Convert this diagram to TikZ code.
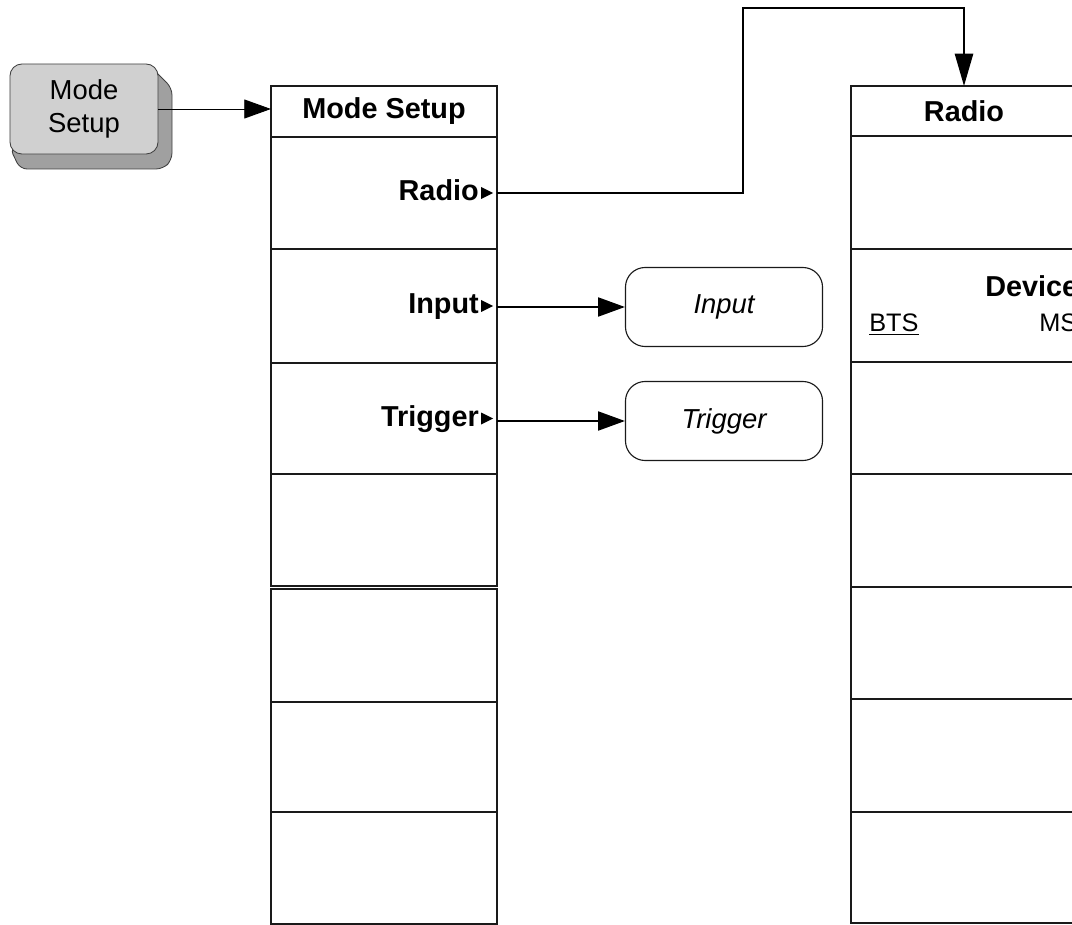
\documentclass[tikz,border=0pt]{standalone}
\usepackage{fontspec}
\setmainfont{Liberation Sans}
\usepackage{tikz}
\usetikzlibrary{positioning,arrows.meta,calc}
\definecolor{keyface}{HTML}{D0D0D0}
\definecolor{keyshade}{HTML}{A0A0A0}
\definecolor{edge}{HTML}{1A1A1A}
\newcommand{\hdfont}{\fontsize{20.5}{24}\selectfont\bfseries}
\newcommand{\txfont}{\fontsize{19.5}{23.4}\selectfont}
\newcommand{\smfont}{\fontsize{18}{22}\selectfont}
\tikzset{
  sk/.style={draw=edge,line width=1pt,minimum width=5.65cm,inner sep=0pt,outer sep=0pt,font=\hdfont},
  lbl/.style={font=\hdfont,inner sep=0pt,anchor=base east},
  func/.style={draw=edge,line width=0.8pt,rounded corners=14pt,minimum width=4.925cm,minimum height=1.975cm,font=\txfont\itshape,inner sep=0pt},
  link/.style={line width=1.3pt,-{Triangle[length=19pt,width=13.5pt]}},
  hardkey/.style={draw=black!75,line width=0.6pt,fill=keyface,rounded corners=8.5pt,minimum width=3.7cm,minimum height=2.25cm,align=center,font=\txfont,inner sep=0pt},
  plain/.style={anchor=base west,inner sep=0pt},
}
\newcommand{\skrow}[5]{% name, centre x, top, bottom, text
  \node[sk,minimum height={(#4-#3)*0.025cm},anchor=north] (#1) at (#2,#3) {#5};}
\newcommand{\skmark}[2]{% row, label
  \node[lbl] (l#1) at ($(#1.east)+(-18,8)$) {#2};
  \fill ($(#1.east)+(-16,-6)$) -- ($(#1.east)+(-4,0)$) -- ($(#1.east)+(-16,6)$) -- cycle;}

\begin{document}
\begin{tikzpicture}[x=0.025cm,y=-0.025cm]
\clip (0,0) rectangle (1072,925);
\fill[keyshade,draw=black!75,line width=0.6pt,rounded corners=5pt] (150,66) -- (172,88) -- (172,160) -- (163,169) -- (20,169) -- (10,148) -- cycle;
\node[hardkey] (key) at (84,109) {Mode\\Setup};

\skrow{ms0}{384}{86}{137}{Mode Setup}
\skrow{ms1}{384}{137}{249}{}
\skrow{ms2}{384}{249}{363}{}
\skrow{ms3}{384}{363}{474}{}
\skrow{ms4}{384}{474}{586}{}
\skrow{ms5}{384}{589}{702}{}
\skrow{ms6}{384}{702}{812}{}
\skrow{ms7}{384}{812}{924}{}
\skmark{ms1}{Radio}
\skmark{ms2}{Input}
\skmark{ms3}{Trigger}

\skrow{rd0}{964}{86}{136}{Radio}
\skrow{rd1}{964}{136}{249}{}
\skrow{rd2}{964}{249}{362}{}
\skrow{rd3}{964}{362}{474}{}
\skrow{rd4}{964}{474}{587}{}
\skrow{rd5}{964}{587}{699}{}
\skrow{rd6}{964}{699}{812}{}
\skrow{rd7}{964}{812}{923}{}
\node[plain,font=\hdfont] (dev) at (985,297) {Device};
\node[plain,font=\smfont] (bts) at (869,332) {\underline{BTS}};
\node[plain,font=\smfont] (mst) at (1039,332) {MS};

\node[func] (inp) at (724,307) {Input};
\node[func] (trg) at (724,421) {Trigger};

\coordinate (bend) at (743,8);
\draw[link,line width=0.7pt] (key.east) -- (key.east -| ms0.west);
\draw[link,-{Triangle[length=23pt,width=13pt]}] (ms1.east) -| (bend) -| (rd0.north);
\draw[link] (ms2.east |- inp.west) -- (inp.west);
\draw[link] (ms3.east |- trg.west) -- (trg.west);
\end{tikzpicture}
\end{document}
